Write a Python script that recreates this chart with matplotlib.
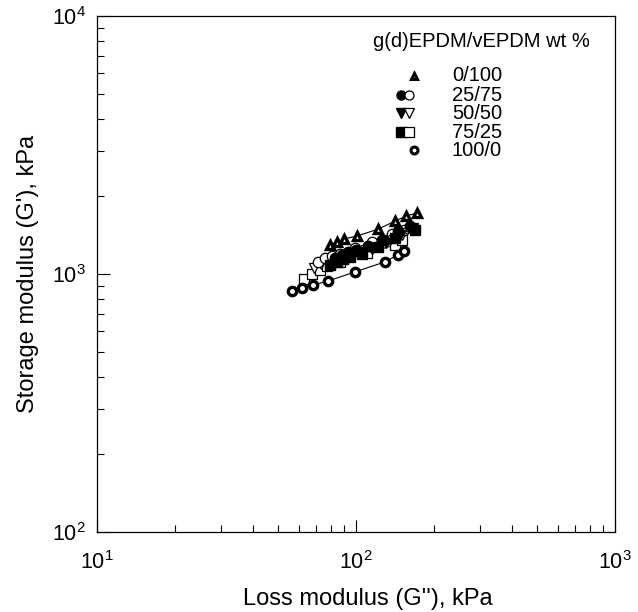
import matplotlib
matplotlib.use("Agg")
import matplotlib.pyplot as plt

plt.rcParams['font.family'] = ['Liberation Sans', 'DejaVu Sans']

# G'' (x) and G' (y) in kPa
x_0_100 = [79.4, 84.5, 89.9, 100.9, 121.6, 141.5, 156.1, 172.1]
y_0_100 = [1294, 1330, 1368, 1404, 1493, 1604, 1679, 1723]

x_25_75_f = [82.9, 88.3, 93.1, 100.0, 111.3, 126.0, 145.3, 161.6]
y_25_75_f = [1153, 1185, 1217, 1239, 1284, 1355, 1468, 1535]
x_25_75_o = [71.3, 75.9, 80.8, 86.8, 99.1, 115.3, 137.7, 153.2]
y_25_75_o = [1113, 1153, 1175, 1196, 1261, 1330, 1429, 1481]

x_50_50_f = [85.2, 90.7, 96.5, 103.6, 115.3, 130.6, 147.9, 166.0]
y_50_50_f = [1123, 1153, 1185, 1217, 1250, 1319, 1416, 1508]
x_50_50_o = [68.8, 73.3, 78.0, 83.7, 94.8, 113.3, 135.3, 150.5]
y_50_50_o = [1055, 1093, 1123, 1153, 1206, 1273, 1355, 1416]

x_75_25_f = [79.4, 84.5, 89.1, 94.8, 105.5, 121.6, 141.4, 169.0]
y_75_25_f = [1084, 1113, 1143, 1164, 1196, 1273, 1379, 1481]
x_75_25_o = [63.0, 67.6, 72.6, 77.3, 86.8, 110.3, 141.4, 150.5]
y_75_25_o = [956, 1000, 1036, 1074, 1113, 1206, 1296, 1355]

x_100_0 = [56.6, 61.9, 68.2, 78.0, 99.1, 129.4, 145.3, 153.2]
y_100_0 = [859, 883, 906, 940, 1019, 1115, 1186, 1228]

labels = ['0/100', '25/75', '50/50', '75/25', '100/0']

fig = plt.figure(figsize=(6.38, 6.12), dpi=100)
ax = fig.add_axes([0.152, 0.1307, 0.812, 0.843])

line_kw = dict(color='black', linewidth=0.8)
thick = dict(markerfacecolor='white', markeredgecolor='black', markeredgewidth=2.4, markersize=6)
filled = dict(markerfacecolor='black', markeredgecolor='black', markersize=7.5)
hollow = dict(markerfacecolor='white', markeredgecolor='black', markeredgewidth=0.9, markersize=7.5)

ax.plot(x_75_25_o, y_75_25_o, marker='s', **line_kw, **hollow)
ax.plot(x_50_50_o, y_50_50_o, marker='v', **line_kw, **hollow)
ax.plot(x_25_75_o, y_25_75_o, marker='o', **line_kw, **hollow)
ax.plot(x_75_25_f, y_75_25_f, marker='s', **line_kw, **filled)
ax.plot(x_50_50_f, y_50_50_f, marker='v', **line_kw, **filled)
ax.plot(x_25_75_f, y_25_75_f, marker='o', **line_kw, **filled)
ax.plot(x_0_100, y_0_100, marker='^', **line_kw, **thick)
ax.plot(x_100_0, y_100_0, marker='o', **line_kw, **thick)

ax.set_xscale('log')
ax.set_yscale('log')
ax.set_xlim(10, 1000)
ax.set_ylim(100, 10000)

ax.tick_params(which='both', direction='in', top=False, right=False, labelsize=15.5)
ax.tick_params(which='major', length=9, width=0.8)
ax.tick_params(which='minor', length=5, width=0.8)
ax.tick_params(axis='x', pad=14)
ax.tick_params(axis='y', pad=8)
for s in ax.spines.values():
    s.set_linewidth(0.9)

ax.set_xlabel("Loss modulus (G''), kPa", fontsize=17)
ax.xaxis.set_label_coords(0.523, -0.108)
ax.set_ylabel("Storage modulus (G'), kPa", fontsize=17, labelpad=9)

# hand-drawn legend block
tr = ax.transAxes
ax.text(0.952, 0.950, 'g(d)EPDM/vEPDM wt %', transform=tr, fontsize=14.5, ha='right', va='center')
ly = [0.884, 0.847, 0.812, 0.775, 0.740]
lx_single, lx_a, lx_b, lx_t = 0.612, 0.586, 0.603, 0.685
small_thick = dict(thick, markersize=5, markeredgewidth=2.2)
small_filled = dict(filled, markersize=6.5)
small_hollow = dict(hollow, markersize=6.5)
ax.plot([lx_single], [ly[0]], marker='^', transform=tr, **small_thick)
ax.plot([lx_a], [ly[1]], marker='o', transform=tr, **small_filled)
ax.plot([lx_b], [ly[1]], marker='o', transform=tr, **small_hollow)
ax.plot([lx_a], [ly[2]], marker='v', transform=tr, **small_filled)
ax.plot([lx_b], [ly[2]], marker='v', transform=tr, **small_hollow)
ax.plot([lx_a], [ly[3]], marker='s', transform=tr, **small_filled)
ax.plot([lx_b], [ly[3]], marker='s', transform=tr, **small_hollow)
ax.plot([lx_single], [ly[4]], marker='o', transform=tr, **small_thick)
for yy, lab in zip(ly, labels):
    ax.text(lx_t, yy, lab, transform=tr, fontsize=14.5, ha='left', va='center')

fig.savefig('out.png', dpi=100)
